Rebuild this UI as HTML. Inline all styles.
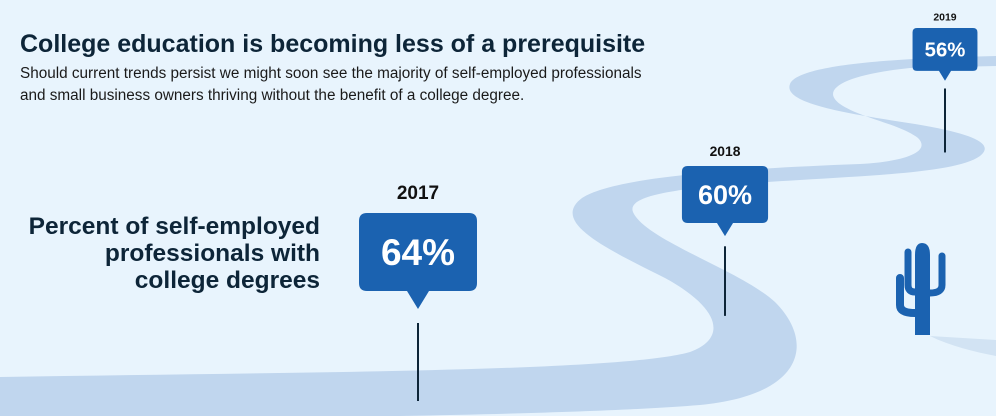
<!DOCTYPE html>
<html><head><meta charset="utf-8"><style>
html,body{margin:0;padding:0;background:#e8f4fd;}
#c{position:relative;width:996px;height:416px;overflow:hidden;background:#e8f4fd;font-family:"Liberation Sans",sans-serif;}
.t{position:absolute;white-space:nowrap;}
</style></head><body>
<div id="c">
<svg id="svg" width="996" height="416" style="position:absolute;left:0;top:0">
  <path fill="#c0d6ee" d="
   M0,377 C300,372 620,372 690,352 C728,338 720,308 665,278 C605,248 550,222 582,198 C610,180 700,170 860,164
   C912,161 930,150 918,138 C900,124 860,118 840,104 C818,88 850,74 910,68 L996,66
   L996,56 C900,58 798,64 790,84 C782,104 850,114 915,124 C975,134 995,144 980,156 C958,172 880,175 800,180
   C700,186 625,192 633,212 C645,240 740,270 775,302 C815,342 805,395 700,405 C600,413 400,418 0,420 Z"/>
  <path fill="#d2e3f3" d="M930,336 L996,340 L996,356 C975,352 950,346 930,336 Z"/>
  <g fill="#1b62b0" stroke="#1b62b0" stroke-linecap="round">
    <path d="M915,335 L915,255 Q915,243 922,243 Q930,243 930,255 L930,335 Z" stroke="none"/>
    <path d="M908,252 L908,285 Q908,292 915,292" fill="none" stroke-width="7"/>
    <path d="M900,278 L900,305 Q900,313 915,313" fill="none" stroke-width="8"/>
    <path d="M942,256 L942,285 Q942,293 930,293" fill="none" stroke-width="7"/>
  </g>
  <g id="pins"></g>
</svg>
<div class="t" style="left:20px;top:30px;font-size:25px;font-weight:bold;color:#0d2538;">College education is becoming less of a prerequisite</div>
<div class="t" style="left:20px;top:63px;font-size:15.3px;line-height:22px;color:#1a1a1a;">Should current trends persist we might soon see the majority of self-employed professionals<br>and small business owners thriving without the benefit of a college degree.</div>
<div class="t" style="right:676px;top:213px;font-size:24.5px;line-height:27px;font-weight:bold;color:#0d2538;text-align:right;">Percent of self-employed<br>professionals with<br>college degrees</div>
</div>
<script>
const years = ["2017","2018","2019"];
const values = [64, 60, 56];
// layout (not data): pin anchor positions along the road
const pinX = [418, 725, 945];
const pinTop = [213, 166, 28];
const pinScale = [1, 0.73, 0.55];
const ns = "http://www.w3.org/2000/svg";
const g = document.getElementById('pins');
function mk(tag, attrs){const e=document.createElementNS(ns,tag);for(const k in attrs)e.setAttribute(k,attrs[k]);return e;}
for(let i=0;i<years.length;i++){
  const s=pinScale[i], x=pinX[i], top=pinTop[i];
  const w=118*s, h=78*s, tail=18*s;
  const grp=mk('g',{});
  
  
  const yr=mk('text',{x:x,y:top-14*s,'text-anchor':'middle','font-size':19*s,'font-weight':'bold',fill:'#111','font-family':'Liberation Sans, sans-serif'});
  yr.textContent=years[i];
  
  
  const box=mk('path',{fill:'#1b62b0',d:`M${x-w/2+8*s},${top} H${x+w/2-8*s} Q${x+w/2},${top} ${x+w/2},${top+8*s} V${top+h-8*s} Q${x+w/2},${top+h} ${x+w/2-8*s},${top+h} H${x+11*s} L${x},${top+h+tail} L${x-11*s},${top+h} H${x-w/2+8*s} Q${x-w/2},${top+h} ${x-w/2},${top+h-8*s} V${top+8*s} Q${x-w/2},${top} ${x-w/2+8*s},${top} Z`});
  
  
  const val=mk('text',{x:x,y:top+h/2+13*s,'text-anchor':'middle','font-size':37*s,'font-weight':'bold',fill:'#fff','font-family':'Liberation Sans, sans-serif'});
  val.textContent=values[i]+'%';
  
  
  const ln=mk('line',{x1:x,x2:x,y1:top+h+tail+14*s,y2:top+h+tail+14*s+78*(0.6+0.4*s),stroke:'#0d2538','stroke-width':2});
  
  
  grp.appendChild(yr);grp.appendChild(box);grp.appendChild(val);grp.appendChild(ln);
  g.appendChild(grp);
}
</script>
</body></html>
